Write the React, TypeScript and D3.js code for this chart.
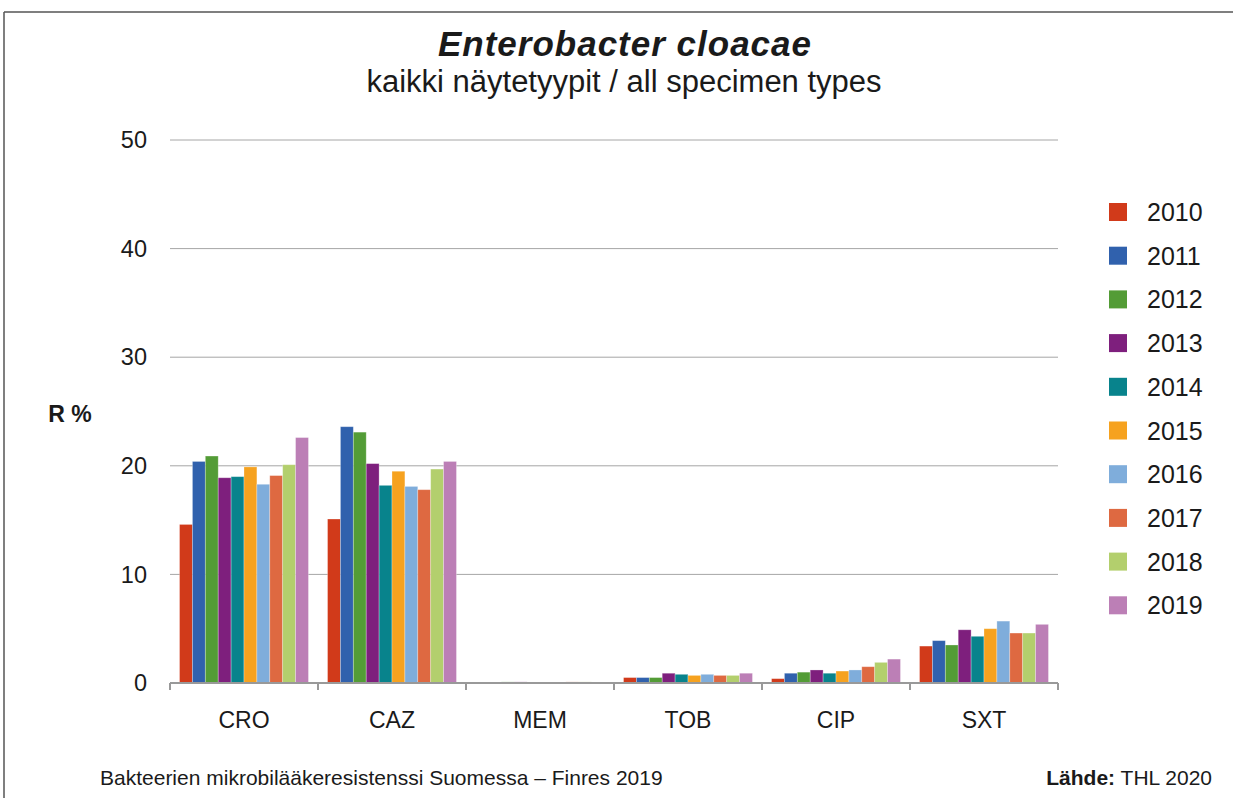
import React from "react";
import * as d3 from "d3";

const categories = ["CRO", "CAZ", "MEM", "TOB", "CIP", "SXT"];
const years = ["2010", "2011", "2012", "2013", "2014", "2015", "2016", "2017", "2018", "2019"];
const colors = ["#D13A1A", "#3061AD", "#539C36", "#7E1F7D", "#08838C", "#F6A21F", "#7FADDB", "#DE6941", "#B3CF6D", "#BC7FB6"];
// values per category, one per year
const CRO = [14.6, 20.4, 20.9, 18.9, 19.0, 19.9, 18.3, 19.1, 20.1, 22.6];
const CAZ = [15.1, 23.6, 23.1, 20.2, 18.2, 19.5, 18.1, 17.8, 19.7, 20.4];
const MEM = [0, 0, 0.1, 0.1, 0, 0, 0, 0.1, 0.1, 0];
const TOB = [0.5, 0.5, 0.5, 0.9, 0.8, 0.7, 0.8, 0.7, 0.7, 0.9];
const CIP = [0.4, 0.9, 1.0, 1.2, 0.9, 1.1, 1.2, 1.5, 1.9, 2.2];
const SXT = [3.4, 3.9, 3.5, 4.9, 4.3, 5.0, 5.7, 4.6, 4.6, 5.4];
const seriesByCategory = [CRO, CAZ, MEM, TOB, CIP, SXT];
const yTicks = [0, 10, 20, 30, 40, 50];

const W = 1233;
const H = 798;
const left = 170;
const right = 1058;
const top = 140;
const bottom = 683;

export default function App() {
  const x0 = d3.scaleBand().domain(categories).range([left, right]).paddingInner(0).paddingOuter(0);
  const x1 = d3.scaleBand().domain(years).range([0, x0.bandwidth()]).paddingOuter(0.74).paddingInner(0);
  const y = d3.scaleLinear().domain([0, 50]).range([bottom, top]);
  const font = "'Liberation Sans', Arial, sans-serif";
  const tickXs = categories.map((c) => x0(c)!).concat([right]);

  return (
    <svg width={W} height={H} style={{ position: "absolute", left: 0, top: 0, background: "#fff" }} fontFamily={font}>
      <rect x={0} y={0} width={W} height={H} fill="#fff" />
      {/* frame */}
      <line x1={4} y1={12} x2={W} y2={12} stroke="#555" strokeWidth={1.5} />
      <line x1={4} y1={12} x2={4} y2={H} stroke="#555" strokeWidth={1.5} />

      <text x={625} y={56} textAnchor="middle" fontSize={35} letterSpacing={1} fontWeight="bold" fontStyle="italic" fill="#1a1a1a">
        Enterobacter cloacae
      </text>
      <text x={624} y={92} textAnchor="middle" fontSize={31} fill="#1a1a1a">
        kaikki näytetyypit / all specimen types
      </text>

      {/* gridlines */}
      {yTicks.map((t) => (
        <g key={t}>
          {t > 0 && <line x1={left} x2={right} y1={y(t)} y2={y(t)} stroke="#A6A6A6" strokeWidth={1} />}
          <text x={147} y={y(t)} dy="0.35em" textAnchor="end" fontSize={23.5} fill="#1a1a1a">
            {t}
          </text>
        </g>
      ))}

      <text x={70} y={414} dy="0.35em" textAnchor="middle" fontSize={23} fontWeight="bold" fill="#1a1a1a">
        R %
      </text>

      {/* bars */}
      {categories.map((c, ci) => (
        <g key={c} transform={`translate(${x0(c)},0)`}>
          {seriesByCategory[ci].map((v, yi) => (
            <rect
              key={yi}
              x={x1(years[yi])!}
              y={y(v)}
              width={x1.bandwidth()}
              height={bottom - y(v)}
              fill={colors[yi]}
              stroke="#ffffff"
              strokeOpacity={0.35}
              strokeWidth={0.8}
            />
          ))}
        </g>
      ))}

      {/* x axis */}
      <line x1={left} x2={right} y1={bottom} y2={bottom} stroke="#999" strokeWidth={2} />
      {tickXs.map((tx, i) => (
        <line key={i} x1={tx} x2={tx} y1={bottom} y2={bottom + 7} stroke="#999" strokeWidth={2} />
      ))}
      {categories.map((c) => (
        <text key={c} x={x0(c)! + x0.bandwidth() / 2} y={720} dy="0.35em" textAnchor="middle" fontSize={23} fill="#1a1a1a">
          {c}
        </text>
      ))}

      {/* legend */}
      {years.map((yr, i) => (
        <g key={yr} transform={`translate(1109, ${203 + i * 43.7})`}>
          <rect x={0} y={0} width={18} height={18} fill={colors[i]} />
          <text x={38} y={9} dy="0.36em" fontSize={25} fill="#1a1a1a">
            {yr}
          </text>
        </g>
      ))}

      {/* footer */}
      <text x={100} y={785} fontSize={21} fill="#1a1a1a">
        Bakteerien mikrobilääkeresistenssi Suomessa – Finres 2019
      </text>
      <text x={1212} y={785} textAnchor="end" fontSize={21} fill="#1a1a1a">
        <tspan fontWeight="bold">Lähde:</tspan> THL 2020
      </text>
    </svg>
  );
}
